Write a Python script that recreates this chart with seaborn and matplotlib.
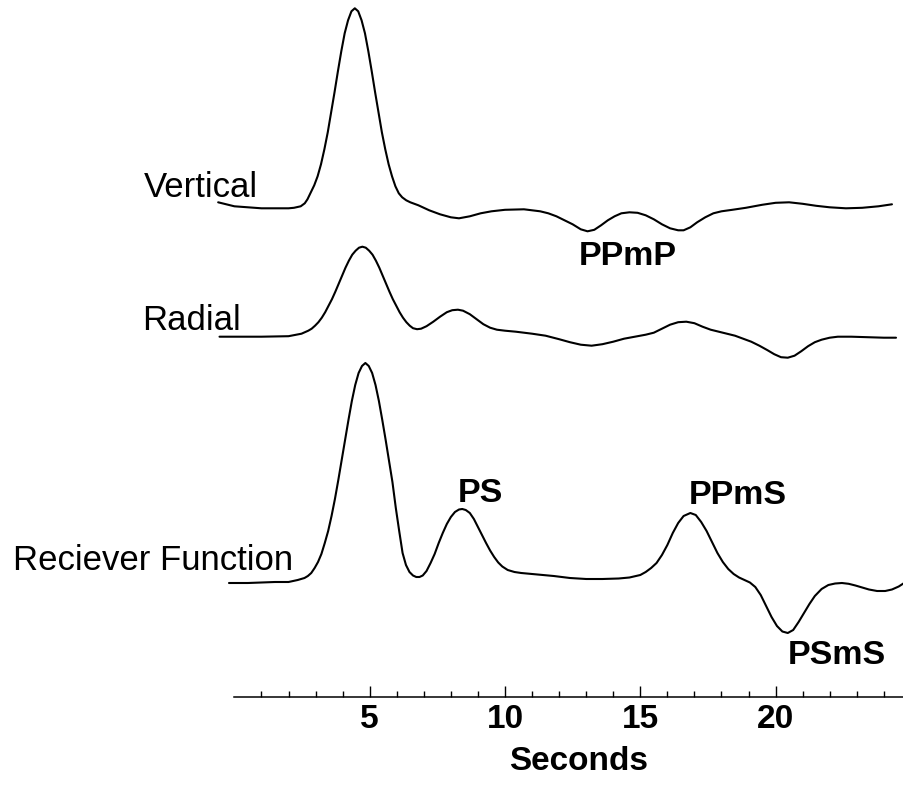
import matplotlib
matplotlib.use("Agg")
import matplotlib.pyplot as plt
import seaborn as sns
from matplotlib.ticker import FixedLocator

sns.set_style("white")
plt.rcParams['font.family'] = ['Liberation Sans', 'DejaVu Sans']
plt.rcParams['text.color'] = 'black'
plt.rcParams['xtick.color'] = 'black'

# Vertical component, (time s, amplitude)
vert_pts = [(-0.6, 6), (-0.3, 4), (0.0, 2), (0.5, 1), (1.0, 0), (1.5, 0), (2.0, 0),
            (2.2, 0.5), (2.45, 2), (2.6, 5), (2.7, 9), (2.825, 16), (2.95, 23),
            (3.075, 32), (3.2, 44), (3.325, 59), (3.45, 76), (3.575, 96), (3.7, 116),
            (3.825, 137), (3.95, 157), (4.075, 175), (4.2, 188), (4.325, 197),
            (4.45, 200), (4.575, 197), (4.7, 188), (4.825, 175), (4.95, 157),
            (5.075, 137), (5.2, 116), (5.325, 96), (5.45, 76), (5.575, 59), (5.7, 44),
            (5.825, 32), (5.95, 22), (6.075, 15), (6.2, 11), (6.35, 8), (6.5, 6),
            (6.8, 3), (7.2, -2), (7.6, -6), (8.0, -9), (8.3, -10), (8.7, -8),
            (9.1, -5), (9.5, -3), (10.0, -1.5), (10.7, -1), (11.3, -3), (11.6, -5),
            (11.9, -8), (12.2, -12), (12.5, -16), (12.8, -21), (13.05, -23),
            (13.3, -21.5), (13.55, -17), (13.8, -12), (14.05, -8), (14.3, -5),
            (14.6, -4), (14.9, -4.5), (15.2, -7), (15.5, -11), (15.8, -16), (16.1, -20),
            (16.4, -22), (16.6, -22), (16.85, -19), (17.1, -14), (17.4, -9), (17.7, -5),
            (18.0, -3), (18.4, -1.5), (18.9, 0.5), (19.5, 3.5), (20.0, 5.5), (20.5, 6),
            (21.0, 4.5), (21.5, 2.5), (22.0, 1), (22.6, 0), (23.2, 0.5), (23.8, 2),
            (24.3, 4)]

# Radial component
rad_pts = [(-0.55, 0), (0.0, 0), (1.0, 0), (2.0, 0.5), (2.48, 3), (2.605, 4.5),
           (2.73, 6), (2.855, 8), (2.98, 11), (3.105, 14.5), (3.23, 19), (3.355, 24.5),
           (3.48, 31), (3.605, 37.5), (3.73, 45), (3.855, 53), (3.98, 61), (4.105, 69),
           (4.23, 76), (4.355, 82), (4.48, 86), (4.605, 89), (4.73, 90), (4.855, 89),
           (4.98, 86), (5.105, 82), (5.23, 76), (5.355, 69), (5.48, 61), (5.605, 53),
           (5.73, 45), (5.855, 37.5), (5.98, 31), (6.105, 24.5), (6.23, 19),
           (6.355, 14.5), (6.48, 11), (6.6, 8.5), (6.75, 7.5), (6.9, 8), (7.1, 10.5),
           (7.35, 15), (7.6, 20), (7.85, 24.5), (8.05, 26.5), (8.26, 27), (8.45, 26),
           (8.7, 22.5), (8.95, 17.5), (9.2, 12.5), (9.45, 9), (9.7, 7), (10.0, 6),
           (10.4, 5), (11.0, 3), (11.5, 1), (12.0, -2.5), (12.4, -5.5), (12.8, -8),
           (13.2, -9), (13.6, -7.5), (14.0, -5), (14.4, -2), (14.8, 0), (15.2, 2),
           (15.5, 4), (15.8, 8), (16.1, 12), (16.4, 14.5), (16.7, 15), (17.0, 13.5),
           (17.3, 10), (17.6, 7), (17.9, 5), (18.2, 3), (18.5, 1), (18.8, -2),
           (19.1, -5), (19.4, -9), (19.7, -13.5), (19.95, -17.5), (20.2, -20.5),
           (20.45, -21), (20.7, -19), (20.95, -14.5), (21.2, -9.5), (21.45, -5.5),
           (21.7, -3), (22.0, -1), (22.3, 0), (22.8, 0), (23.4, -0.5), (24.0, -1),
           (24.45, -1)]

# Receiver function
rf_pts = [(-0.2, 0), (0.5, 0), (1.0, 0.5), (1.5, 1), (2.0, 1), (2.34, 3), (2.59, 5),
          (2.715, 7), (2.84, 10), (2.965, 15), (3.09, 21), (3.215, 29), (3.34, 40),
          (3.465, 52), (3.59, 67), (3.715, 84), (3.84, 103), (3.965, 123), (4.09, 143),
          (4.215, 163), (4.34, 182), (4.465, 198), (4.59, 210), (4.715, 217),
          (4.84, 220), (4.965, 217), (5.09, 210), (5.215, 198), (5.34, 182),
          (5.465, 163), (5.59, 143), (5.715, 122), (5.84, 101), (5.965, 75),
          (6.09, 52), (6.215, 30), (6.34, 18), (6.47, 11), (6.6, 7.5), (6.72, 6),
          (6.84, 6), (6.96, 7.5), (7.1, 12), (7.25, 20), (7.4, 29), (7.55, 40),
          (7.7, 50), (7.85, 59), (8.0, 66), (8.15, 71), (8.3, 73.5), (8.42, 74),
          (8.55, 73), (8.7, 70), (8.85, 64), (9.0, 56), (9.15, 48), (9.3, 40),
          (9.45, 32.5), (9.6, 26), (9.75, 20.5), (9.9, 16.5), (10.1, 13), (10.35, 11),
          (10.6, 10), (11.2, 8.5), (11.8, 7), (12.4, 5), (13.0, 4), (13.6, 4),
          (14.2, 4.5), (14.6, 5.5), (15.0, 8), (15.2, 11), (15.4, 15), (15.6, 20),
          (15.8, 28), (16.0, 38), (16.2, 50), (16.4, 60), (16.6, 67), (16.85, 70),
          (17.05, 68), (17.25, 61), (17.45, 52), (17.65, 41), (17.85, 30), (18.05, 21),
          (18.25, 14), (18.45, 9), (18.65, 5.5), (18.85, 3), (19.05, 0.5), (19.25, -4),
          (19.45, -12), (19.65, -23), (19.85, -34), (20.05, -43), (20.25, -48.5),
          (20.45, -50), (20.65, -47), (20.85, -39), (21.05, -30), (21.25, -21),
          (21.45, -13), (21.7, -6), (21.95, -2), (22.2, -0.5), (22.45, 0), (22.7, -0.8),
          (22.95, -2.5), (23.2, -4.5), (23.45, -6.5), (23.75, -8), (24.05, -8),
          (24.3, -6.5), (24.55, -3.5), (24.75, 0)]

trace_names = ["Vertical", "Radial", "Reciever Function"]
phase_names = ["PPmP", "PS", "PPmS", "PSmS"]
major_ticks = [5, 10, 15, 20]
minor_ticks = [i for i in range(1, 25) if i % 5 != 0]

fig = plt.figure(figsize=(9.04, 7.85), dpi=100)
ax = fig.add_axes([0, 88 / 785, 1, 697 / 785])

# baseline offsets for stacking the traces
offsets = [488.7, 360.3, 114]
for pts, off in zip([vert_pts, rad_pts, rf_pts], offsets):
    t = [p[0] for p in pts]
    y = [p[1] + off for p in pts]
    sns.lineplot(x=t, y=y, color="black", lw=1.5, ax=ax, sort=False, estimator=None)

# trace names on the left
name_pos = [(0.87, 499.7), (0.24, 367), (2.16, 127)]
for name, (x, y) in zip(trace_names, name_pos):
    ax.text(x, y, name, ha="right", va="baseline", fontsize=25, color="black")

# phase labels
phase_pos = [(14.54, 432), (9.11, 194.7), (18.61, 193), (22.27, 32.7)]
for name, (x, y) in zip(phase_names, phase_pos):
    ax.text(x, y, name, ha="center", va="baseline", fontsize=24.5,
            fontweight="bold", color="black")

ax.set_xlim(-234.4 / 27.06, (904 - 234.4) / 27.06)
ax.set_ylim(0, 697)

for s in ["top", "left", "right"]:
    ax.spines[s].set_visible(False)
ax.spines["bottom"].set_bounds(0, (904 - 234.4) / 27.06)
ax.spines["bottom"].set_linewidth(1.1)
ax.spines["bottom"].set_color("black")

ax.xaxis.set_major_locator(FixedLocator(major_ticks))
ax.xaxis.set_minor_locator(FixedLocator(minor_ticks))
ax.set_xticklabels([str(v) for v in major_ticks], fontsize=24, fontweight="bold")
ax.tick_params(axis="x", which="major", direction="in", length=8, width=1, pad=5,
               color="black", labelcolor="black", bottom=True)
ax.tick_params(axis="x", which="minor", direction="in", length=4.5, width=1,
               color="black", bottom=True)
ax.set_yticks([])
ax.set_ylabel("")

ax.set_xlabel("Seconds", fontsize=24, fontweight="bold", color="black")
ax.xaxis.set_label_coords(579 / 904, -0.07)

fig.savefig("out.png", dpi=100)
